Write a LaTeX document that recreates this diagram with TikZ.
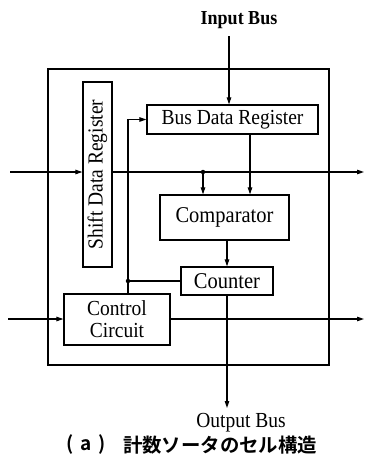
\documentclass[tikz,border=0pt]{standalone}
\usepackage{fontspec}
\usepackage{graphicx}
\setmainfont{Liberation Serif}
\newfontfamily\jpfont{Noto Sans CJK JP}[BoldFont=* Bold]
\usetikzlibrary{arrows.meta}
\newcommand{\tallt}[1]{\scalebox{1}[1.1]{#1}}
\tikzset{
  blk/.style={draw, line width=1.3pt, inner sep=0pt, align=center},
  conn/.style={line width=1.1pt},
  arr/.style={conn, -{Triangle[length=7pt,width=4.5pt]}},
  jdot/.style={circle, fill, inner sep=0pt, minimum size=4.5pt},
  lbl/.style={inner sep=0pt, font=\fontsize{20}{22}\selectfont}
}
\begin{document}
\begin{tikzpicture}[x=1pt,y=-1pt]
\useasboundingbox (0,0) rectangle (365,461);
% outer box
\draw[line width=1.3pt] (48,69) rectangle (329,365);
% blocks
\node[blk, minimum width=171pt, minimum height=29pt, font=\fontsize{19.5}{21}\selectfont] (bdr) at (232.5,119.5) {\tallt{Bus Data Register}};
\node[blk, minimum width=185pt, minimum height=29pt, rotate=90, font=\fontsize{19.5}{21}\selectfont] (sdr) at (97.5,174.5) {\tallt{Shift Data Register}};
\node[blk, minimum width=129pt, minimum height=45pt, font=\fontsize{20.5}{22}\selectfont] (comp) at (224.5,217.5) {\tallt{Comparator}};
\node[blk, minimum width=92pt, minimum height=28pt, font=\fontsize{20.5}{22}\selectfont] (cnt) at (227,281) {\tallt{Counter}};
\node[blk, minimum width=106pt, minimum height=51pt, font=\fontsize{19.5}{22}\selectfont] (ctrl) at (117,319.5) {\tallt{Control}\\\tallt{Circuit}};
% labels
\node[lbl, font=\bfseries\fontsize{18}{20}\selectfont] (inbus) at (239,20) {\tallt{Input Bus}};
\node[lbl, font=\fontsize{19.5}{21}\selectfont] (outbus) at (241,423) {\tallt{Output Bus}};
\node[inner sep=0pt, font=\jpfont\bfseries\fontsize{19}{20}\selectfont] (capa) at (86,445) {(\hspace{7pt}a\hspace{7pt})};
\node[inner sep=0pt, font=\jpfont\bfseries\fontsize{19.4}{21}\selectfont] (capj) at (220,445) {計数ソータのセル構造};
% coordinates
\coordinate (inTop) at (229,36);
\coordinate (L1) at (10,172);
\coordinate (R1) at (364,172);
\coordinate (J1) at (203,172);
\coordinate (xBD) at (250,0);
\coordinate (J2) at (128,281);
\coordinate (L2) at (8,319);
\coordinate (R2) at (364,319);
\coordinate (outEnd) at (227,408);
% connectors
\draw[arr] (inTop) -- (inTop |- bdr.north);
\draw[arr] (L1) -- (L1 -| sdr.north);
\draw[arr] (L1 -| sdr.south) -- (R1);
\node[jdot] (j1) at (J1) {};
\draw[arr] (J1) -- (J1 |- comp.north);
\draw[arr] (bdr.south -| xBD) -- (comp.north -| xBD);
\draw[arr] (cnt.north |- comp.south) -- (cnt.north);
\draw[conn] (cnt.west) -- (J2);
\node[jdot] (j2) at (J2) {};
\draw[arr] (J2) |- (bdr.west);
\draw[conn] (J2) -- (J2 |- ctrl.north);
\draw[arr] (L2) -- (L2 -| ctrl.west);
\draw[arr] (L2 -| ctrl.east) -- (R2);
\draw[arr] (cnt.south) -- (outEnd);
\end{tikzpicture}
\end{document}
